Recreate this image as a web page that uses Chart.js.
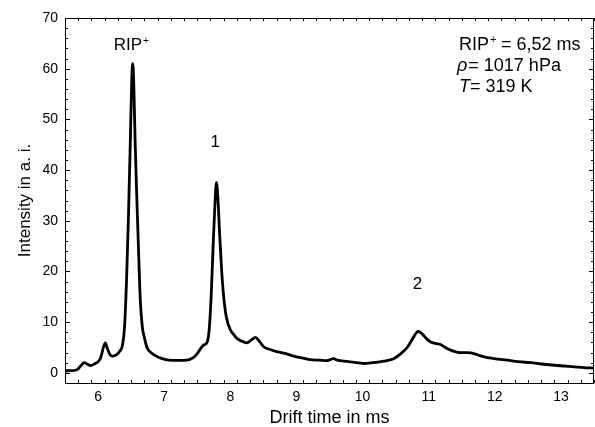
<!DOCTYPE html>
<html>
<head>
<meta charset="utf-8">
<title>Drift time spectrum</title>
<script src="https://cdn.jsdelivr.net/npm/chart.js@4"></script>
<style>
  html, body { margin: 0; padding: 0; background: #fff; }
  #wrap { width: 595px; height: 427px; }
</style>
</head>
<body>
<div id="wrap"><canvas id="driftChart" width="595" height="427"></canvas></div>
<script>
// drift time in ms
const driftTime = [
  5.5, 5.6, 5.68, 5.74, 5.79, 5.84, 5.89, 5.95, 6.0, 6.04, 6.08, 6.11, 6.14, 6.18, 6.22, 6.28,
  6.33, 6.37, 6.4, 6.43, 6.46, 6.49, 6.51, 6.525, 6.54, 6.56, 6.58, 6.6, 6.62, 6.64, 6.67, 6.7,
  6.74, 6.8, 6.88, 6.97, 7.07, 7.2, 7.34, 7.44, 7.5, 7.55, 7.6, 7.65, 7.68, 7.71, 7.74, 7.77,
  7.79, 7.81, 7.84, 7.87, 7.9, 7.94, 8.0, 8.05, 8.1, 8.15, 8.25, 8.32, 8.38, 8.44, 8.51, 8.6,
  8.7, 8.81, 8.96, 9.1, 9.21, 9.35, 9.46, 9.51, 9.56, 9.62, 9.72, 9.85, 10.02, 10.15, 10.32, 10.47,
  10.58, 10.68, 10.76, 10.84, 10.9, 10.97, 11.03, 11.1, 11.18, 11.25, 11.33, 11.48, 11.58, 11.64, 11.75, 11.89,
  12.05, 12.19, 12.35, 12.55, 12.7, 12.9, 13.05, 13.2, 13.35, 13.5
];
// intensity in a. i.
const intensity = [
  0.4, 0.45, 0.6, 1.4, 2.0, 1.7, 1.45, 1.8, 2.2, 3.0, 5.0, 5.9, 4.8, 3.6, 3.3, 3.6,
  4.3, 5.5, 9.0, 18, 31, 47, 58, 61, 57, 46, 37, 29, 21, 14, 9.0, 7.0,
  5.0, 4.0, 3.3, 2.8, 2.5, 2.45, 2.5, 3.0, 3.8, 4.8, 5.5, 6.1, 8.5, 15, 25, 34,
  37.5, 35, 27, 20, 15, 11, 8.5, 7.6, 6.8, 6.4, 5.9, 6.5, 7.0, 6.2, 5.1, 4.6,
  4.2, 3.9, 3.3, 2.9, 2.6, 2.5, 2.4, 2.6, 2.8, 2.5, 2.3, 2.1, 1.85, 2.0, 2.3, 2.8,
  3.8, 5.1, 6.8, 8.2, 7.7, 6.7, 6.1, 5.8, 5.6, 5.0, 4.5, 4.0, 4.0, 3.95, 3.5, 3.0,
  2.7, 2.5, 2.2, 2.0, 1.75, 1.5, 1.35, 1.2, 1.05, 0.95
];
const xTicks = [6, 7, 8, 9, 10, 11, 12, 13];
const yTicks = [0, 10, 20, 30, 40, 50, 60, 70];

// peak labels: [text, drift time, intensity]
const peakLabels = [
  ['RIP', 6.45, 63.7],
  ['1', 7.77, 44.6],
  ['2', 10.83, 16.5]
];

document.addEventListener("DOMContentLoaded", function () {
  const FONT = "'Liberation Sans', Arial, sans-serif";

  // inward ticks on all four sides plus the frame
  const framePlugin = {
    id: 'frame',
    afterDraw(chart) {
      const c = chart.ctx;
      const a = chart.chartArea;
      const xs = chart.scales.x, ys = chart.scales.y;
      c.save();
      c.strokeStyle = '#000';
      c.lineWidth = 1;
      c.beginPath();
      for (let i = 0; i <= 40; i++) {
        const v = xs.min + i * 0.2;
        const px = Math.round(xs.getPixelForValue(v)) + 0.5;
        const len = Math.abs(v - Math.round(v)) < 1e-6 ? 5 : 3;
        c.moveTo(px, a.bottom); c.lineTo(px, a.bottom - len);
        c.moveTo(px, a.top); c.lineTo(px, a.top + len);
      }
      for (let v = ys.min; v <= ys.max + 1e-6; v += 2) {
        const py = Math.round(ys.getPixelForValue(v)) + 0.5;
        const len = Math.abs(v % 10) < 1e-6 ? 5 : 3;
        c.moveTo(a.left, py); c.lineTo(a.left + len, py);
        c.moveTo(a.right, py); c.lineTo(a.right - len, py);
      }
      c.stroke();
      c.strokeRect(Math.round(a.left) + 0.5, Math.round(a.top) + 0.5,
        Math.round(a.right - a.left) - 1, Math.round(a.bottom - a.top));
      c.restore();
    }
  };

  // peak names and measurement conditions
  const notesPlugin = {
    id: 'notes',
    afterDraw(chart) {
      const c = chart.ctx;
      const xs = chart.scales.x, ys = chart.scales.y;
      c.save();
      c.fillStyle = '#000';
      c.textBaseline = 'alphabetic';
      peakLabels.forEach(function (p) {
        const px = xs.getPixelForValue(p[1]);
        const py = ys.getPixelForValue(p[2]);
        c.font = '17px ' + FONT;
        c.textAlign = 'center';
        c.fillText(p[0], px, py);
        if (p[0] === 'RIP') {
          const w = c.measureText('RIP').width;
          c.font = '10px ' + FONT;
          c.textAlign = 'left';
          c.fillText('+', px + w / 2 + 1, py - 6);
        }
      });

      const left = 459;
      c.textAlign = 'left';
      c.font = '18px ' + FONT;
      c.fillText('RIP', left, 49.5);
      let w = c.measureText('RIP').width;
      c.font = '11px ' + FONT;
      c.fillText('+', left + w + 1, 43);
      c.font = '18px ' + FONT;
      c.fillText(' = 6,52 ms', left + w + 7, 49.5);

      c.font = 'italic 18px ' + FONT;
      c.fillText('\u03C1', left - 2, 70.5);
      w = c.measureText('\u03C1').width;
      c.font = '18px ' + FONT;
      c.fillText('= 1017 hPa', left - 2 + w + 1, 70.5);

      c.font = 'italic 18px ' + FONT;
      c.fillText('T', left, 91.5);
      w = c.measureText('T').width;
      c.font = '18px ' + FONT;
      c.fillText('= 319 K', left + w, 91.5);
      c.restore();
    }
  };

  const driftData = {
    datasets: [{
      label: 'Intensity',
      data: driftTime.map((t, i) => ({ x: t, y: intensity[i] })),
      borderColor: '#000',
      borderWidth: 2.8,
      pointRadius: 0,
      fill: false,
      cubicInterpolationMode: 'monotone'
    }]
  };

  const driftConfig = {
    type: 'line',
    data: driftData,
    plugins: [framePlugin, notesPlugin],
    options: {
      responsive: false,
      animation: false,
      layout: { padding: { left: 0, right: 1, top: 18, bottom: 0 } },
      plugins: { legend: { display: false }, tooltip: { enabled: false } },
      scales: {
        x: {
          type: 'linear',
          min: 5.5,
          max: 13.5,
          afterBuildTicks: s => { s.ticks = xTicks.map(v => ({ value: v })); },
          afterFit: s => { s.height = 44; },
          grid: { display: false, drawTicks: false, tickLength: 0 },
          border: { display: false },
          ticks: { color: '#000', font: { family: FONT, size: 14 }, padding: 6, maxRotation: 0 },
          title: { display: true, text: 'Drift time in ms', color: '#000', font: { family: FONT, size: 18, lineHeight: 1 }, padding: { top: 0, bottom: 0 } }
        },
        y: {
          min: -2,
          max: 70,
          afterBuildTicks: s => { s.ticks = yTicks.map(v => ({ value: v })); },
          afterFit: s => { s.width = 65; },
          grid: { display: false, drawTicks: false, tickLength: 0 },
          border: { display: false },
          ticks: { color: '#000', font: { family: FONT, size: 14 }, padding: 7 },
          title: { display: true, text: 'Intensity in a. i.', color: '#000', font: { family: FONT, size: 17, lineHeight: 1 }, padding: { top: 17, bottom: 0 } }
        }
      }
    }
  };

  var driftCtx = document.getElementById('driftChart').getContext('2d');
  var driftChart = new Chart(driftCtx, driftConfig);
});
</script>
</body>
</html>
